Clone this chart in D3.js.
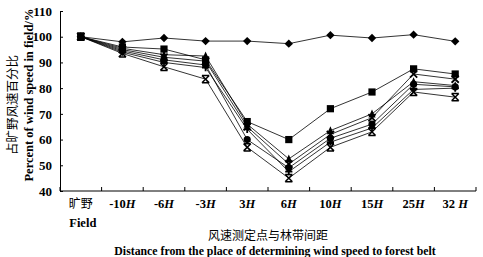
<!DOCTYPE html>
<html>
<head>
<meta charset="utf-8">
<script src="https://cdn.jsdelivr.net/npm/d3@7"></script>
<style>
  body { margin: 0; background: #fff; }
  svg text { font-family: "Liberation Serif", "Times New Roman", serif; font-weight: bold; fill: #000; }
  .cn { font-family: "Noto Sans CJK SC", sans-serif; font-weight: normal; }
  .series-line { fill: none; stroke: #000; stroke-width: 0.8; }
  .axis path, .axis line { stroke: #000; stroke-width: 1; }
</style>
</head>
<body>
<svg id="chart" width="483" height="257"></svg>
<script>
// categories (distance from forest belt)
const categories = ["旷野", "-10H", "-6H", "-3H", "3H", "6H", "10H", "15H", "25H", "32 H"];
const yTicks = [40, 50, 60, 70, 80, 90, 100, 110];

// series values, % of field wind speed
const diamondVals  = [100, 98.0, 99.5, 98.3, 98.3, 97.3, 100.6, 99.5, 100.8, 98.2];
const squareVals   = [100, 96.0, 95.2, 91.0, 67.0, 60.0, 72.0, 78.5, 87.5, 85.5];
const triangleVals = [100, 95.5, 93.0, 92.5, 66.0, 52.5, 63.5, 70.0, 82.5, 81.0];
const crossVals    = [100, 95.0, 92.0, 90.5, 65.0, 50.5, 62.0, 68.5, 85.5, 83.5];
const plusVals     = [100, 94.0, 90.0, 88.0, 64.0, 47.5, 59.0, 64.5, 79.5, 80.0];
const circleVals   = [100, 94.5, 91.0, 89.0, 60.0, 49.0, 60.5, 66.0, 81.5, 80.5];
const starVals     = [100, 93.5, 88.3, 83.5, 57.0, 45.0, 57.0, 63.0, 78.5, 76.5];

const series = [
    {name: "diamond", values: diamondVals},
    {name: "square", values: squareVals},
    {name: "triangle", values: triangleVals},
    {name: "cross", values: crossVals},
    {name: "plus", values: plusVals},
    {name: "circle", values: circleVals},
    {name: "star", values: starVals}
];

const svg = d3.select("#chart");
const plotLeft = 60, plotRight = 476, plotTop = 11, plotBottom = 191;

const x = d3.scaleBand().domain(categories).range([plotLeft, plotRight]);
const y = d3.scaleLinear().domain([40, 110]).range([plotBottom, plotTop]);

// y axis
const yAxis = d3.axisLeft(y).tickValues(yTicks).tickSizeInner(-3).tickSizeOuter(0).tickPadding(8);
const gy = svg.append("g")
    .attr("class", "axis")
    .attr("transform", `translate(${plotLeft},0)`)
    .call(yAxis);
gy.selectAll("text").style("font-size", "13px");

// x axis: ticks at category boundaries, pointing inward
svg.append("line")
    .attr("x1", plotLeft).attr("x2", plotRight)
    .attr("y1", plotBottom).attr("y2", plotBottom)
    .attr("stroke", "#000");
const bounds = categories.map(c => x(c)).concat([plotRight]);
svg.append("g").selectAll("line").data(bounds)
    .join("line")
    .attr("x1", d => d).attr("x2", d => d)
    .attr("y1", plotBottom).attr("y2", plotBottom - 4)
    .attr("stroke", "#000");

// x tick labels (H in italic)
const xl = svg.append("g").selectAll("text").data(categories)
    .join("text")
    .attr("x", d => x(d) + x.bandwidth() / 2)
    .attr("y", 208)
    .attr("text-anchor", "middle")
    .style("font-size", "12.5px");
xl.each(function(d) {
    const t = d3.select(this);
    if (d === "旷野") {
        t.attr("class", "cn").style("font-size", "12px").text(d);
        return;
    }
    const num = d.replace("H", "");
    t.append("tspan").text(num);
    t.append("tspan").style("font-style", "italic").text("H");
});

svg.append("text")
    .attr("x", x(categories[0]) + x.bandwidth() / 2 + 2)
    .attr("y", 227)
    .attr("text-anchor", "middle")
    .style("font-size", "12.5px")
    .text("Field");

// axis titles
svg.append("text")
    .attr("class", "cn")
    .attr("x", 268).attr("y", 240)
    .attr("text-anchor", "middle")
    .style("font-size", "12px")
    .text("风速测定点与林带间距");
svg.append("text")
    .attr("x", 275).attr("y", 255)
    .attr("text-anchor", "middle")
    .style("font-size", "11.8px")
    .text("Distance from the place of determining wind speed to forest belt");

svg.append("text")
    .attr("class", "cn")
    .attr("transform", "translate(17,105) rotate(-90)")
    .attr("text-anchor", "middle")
    .style("font-size", "12.5px")
    .text("占旷野风速百分比");
svg.append("text")
    .attr("transform", "translate(33,95) rotate(-90)")
    .attr("text-anchor", "middle")
    .style("font-size", "12.5px")
    .text("Percent of wind speed in field/%");

// lines
const cx = c => x(c) + x.bandwidth() / 2;
const line = d3.line()
    .x((d, i) => cx(categories[i]))
    .y(d => y(d));

svg.append("g").selectAll("path").data(series)
    .join("path")
    .attr("class", "series-line")
    .attr("d", d => line(d.values));

// markers
function drawMarker(g, type) {
    const s = 3.6;
    if (type === "diamond") {
        g.append("path").attr("d", `M0,${-s - 0.6}L${s + 0.6},0L0,${s + 0.6}L${-s - 0.6},0Z`).attr("fill", "#000");
    } else if (type === "square") {
        g.append("rect").attr("x", -s).attr("y", -s).attr("width", 2 * s).attr("height", 2 * s).attr("fill", "#000");
    } else if (type === "triangle") {
        g.append("path").attr("d", `M0,${-s - 0.8}L${s},${s}L${-s},${s}Z`).attr("fill", "#000");
    } else if (type === "circle") {
        g.append("circle").attr("r", s).attr("fill", "#000");
    } else if (type === "cross") {
        g.append("path").attr("d", `M${-s},${-s}L${s},${s}M${s},${-s}L${-s},${s}`)
            .attr("stroke", "#000").attr("stroke-width", 1.8);
    } else if (type === "plus") {
        g.append("path").attr("d", `M${-s},0L${s},0M0,${-s}L0,${s}`)
            .attr("stroke", "#000").attr("stroke-width", 1.8);
    } else if (type === "star") {
        g.append("path").attr("d", `M${-s},${-s}L${s},${s}M${s},${-s}L${-s},${s}M${-s},${-s}L${s},${-s}M${-s},${s}L${s},${s}`)
            .attr("stroke", "#000").attr("stroke-width", 1.5);
    }
}

series.forEach(sr => {
    const gs = svg.append("g").attr("class", "markers-" + sr.name);
    sr.values.forEach((v, i) => {
        const g = gs.append("g").attr("transform", `translate(${cx(categories[i])},${y(v)})`);
        drawMarker(g, sr.name);
    });
});
</script>
</body>
</html>
